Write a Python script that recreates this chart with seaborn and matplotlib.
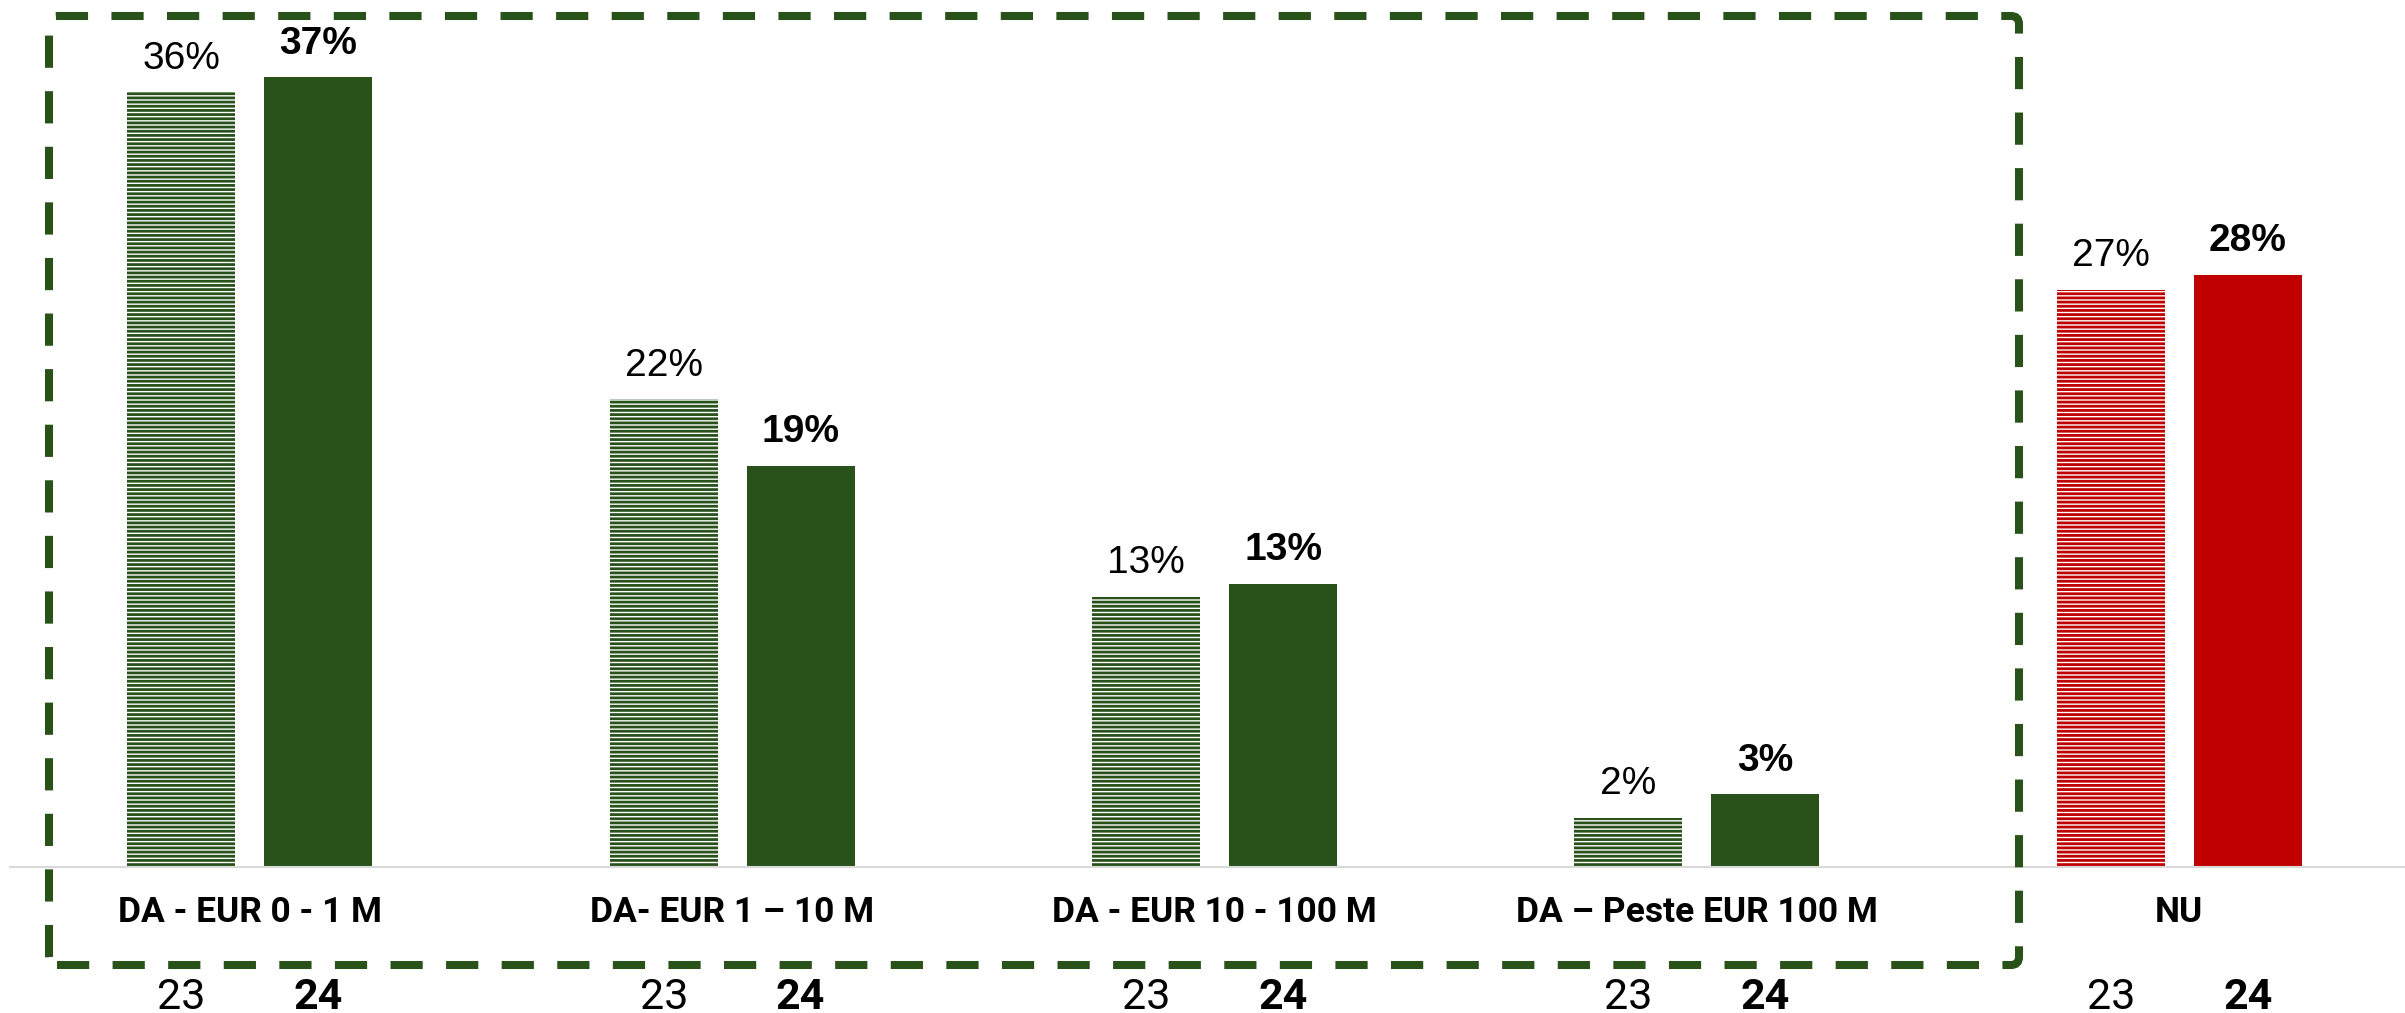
import pandas as pd
import seaborn as sns
import matplotlib.pyplot as plt
import matplotlib.transforms as mtransforms
from matplotlib.patches import FancyBboxPatch

categories = ["DA - EUR 0 - 1 M", "DA- EUR 1 \u2013 10 M", "DA - EUR 10 - 100 M",
              "DA \u2013 Peste EUR 100 M", "NU"]
years = ["23", "24"]
val_23 = [36.1, 21.8, 12.6, 2.3, 26.9]
val_24 = [36.8, 18.7, 13.2, 3.4, 27.6]

green = "#28521A"
red = "#C00000"
bar_colors = [green, green, green, green, red]

df = pd.DataFrame({
    "cat": categories * 2,
    "year": [years[0]] * len(categories) + [years[1]] * len(categories),
    "val": val_23 + val_24,
})

sns.set_style("white")
plt.rcParams["hatch.linewidth"] = 2.0
plt.rcParams["text.color"] = "black"
plt.rcParams["xtick.color"] = "black"

fig = plt.figure(figsize=(24.05, 10.13), dpi=100)
ax = fig.add_axes([0.004, 0.144, 0.996, 0.856])
sns.barplot(data=df, x="cat", y="val", hue="year", width=0.568, gap=0.212,
            errorbar=None, legend=False, ax=ax)

bars_23 = ax.patches[:5]
bars_24 = ax.patches[5:10]
for p, c in zip(bars_23, bar_colors):
    p.set_facecolor("white")
    p.set_edgecolor(c)
    p.set_hatch("----")
    p.set_linewidth(0)
for p, c in zip(bars_24, bar_colors):
    p.set_facecolor(c)
    p.set_edgecolor(c)
    p.set_linewidth(0)

# value labels
for bars, vals, weight in [(bars_23, val_23, "normal"), (bars_24, val_24, "bold")]:
    for p, v in zip(bars, vals):
        ax.annotate(f"{v:.0f}%", (p.get_x() + p.get_width() / 2, p.get_height()),
                    xytext=(0, 17), textcoords="offset points", ha="center",
                    va="baseline", fontsize=28, fontweight=weight,
                    family="Liberation Sans", color="black")

# year labels under each bar
trans = mtransforms.blended_transform_factory(ax.transData, ax.transAxes)
for bars, yr, weight in [(bars_23, years[0], "normal"), (bars_24, years[1], "bold")]:
    for p in bars:
        ax.text(p.get_x() + p.get_width() / 2, -0.15, yr, transform=trans,
                ha="center", va="center", fontsize=31, fontweight=weight,
                family="Roboto", color="black")

ax.set_xlim(-0.498, 4.468)
ax.set_ylim(0, 40.4)
ax.set_yticks([])
ax.set_xlabel("")
ax.set_ylabel("")
ax.set_xticks(range(len(categories)))
ax.set_xticklabels(categories, fontsize=25.5, fontweight="bold", family="Roboto",
                   color="black")
for lbl in ax.get_xticklabels():
    lbl.set_va("center")
ax.tick_params(axis="x", length=0, pad=33)
for s in ["top", "left", "right"]:
    ax.spines[s].set_visible(False)
ax.spines["bottom"].set_color("#d9d9d9")
ax.spines["bottom"].set_linewidth(1.5)

# dashed frame around the "DA" groups (pixel coordinates)
frame = FancyBboxPatch((49, 48), 1970, 949,
                       boxstyle="round,pad=0,rounding_size=8",
                       transform=mtransforms.IdentityTransform(),
                       facecolor="none", edgecolor=green, linewidth=5.8,
                       linestyle=(0, (4, 2.9)), zorder=10)
fig.add_artist(frame)

fig.savefig("out.png", dpi=100)
